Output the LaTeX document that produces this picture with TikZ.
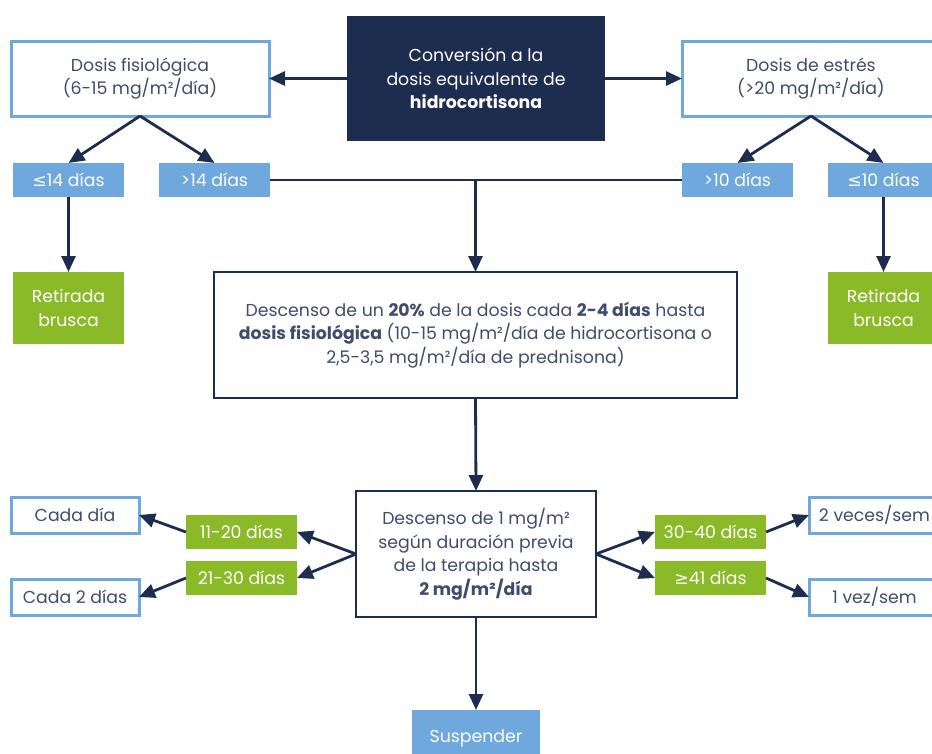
\documentclass[tikz,border=0pt]{standalone}
\usepackage{fontspec}
\setmainfont{Poppins}
\newfontfamily\symf{DejaVu Sans}
\usetikzlibrary{arrows.meta}
\definecolor{navy}{HTML}{1D2D50}
\definecolor{lblue}{HTML}{6FA8DC}
\definecolor{lgreen}{HTML}{8ABA27}
\definecolor{txt}{HTML}{3F4D6B}
\newcommand{\msq}{m²}
\newcommand{\leqs}{{\symf\char"2264}}
\newcommand{\geqs}{{\symf\char"2265}}
\tikzset{
  every node/.style={inner sep=0pt, outer sep=0pt, font=\fontsize{17.3}{23.5}\selectfont},
  outbox/.style={draw=lblue, line width=3pt, fill=white, text=txt},
  bluebox/.style={fill=lblue, text=white},
  greenbox/.style={fill=lgreen, text=white},
  navybox/.style={draw=navy, line width=2.8pt, fill=white, text=txt},
  darkbox/.style={fill=navy, text=white},
  arr/.style={draw=navy, line width=2.8pt, -{Triangle[length=16pt,width=14pt]}},
  ln/.style={draw=navy, line width=2.8pt},
}
\begin{document}
\begin{tikzpicture}[x=1pt,y=-1pt]
\useasboundingbox (0,0) rectangle (932,753);
\clip (0,0) rectangle (932,753);
% top row
\node[darkbox, minimum width=258pt, minimum height=125pt, align=center] (conv) at (476,78.5)
  {Conversión a la\\dosis equivalente de\\\textbf{hidrocortisona}};
\node[outbox, minimum width=258pt, minimum height=75pt, align=center] (fis) at (140,78.5)
  {Dosis fisiológica\\(6-15 mg/\msq/día)};
\node[outbox, minimum width=258pt, minimum height=75pt, align=center] (est) at (811,78.5)
  {Dosis de estrés\\(>20 mg/\msq/día)};
% small boxes
\node[bluebox, minimum width=111pt, minimum height=34pt] (le14) at (68.5,180) {\leqs14 días};
\node[bluebox, minimum width=111pt, minimum height=34pt] (gt14) at (214.5,180) {>14 días};
\node[bluebox, minimum width=111pt, minimum height=34pt] (gt10) at (737.5,180) {>10 días};
\node[bluebox, minimum width=111pt, minimum height=34pt] (le10) at (883.5,180) {\leqs10 días};
% retirada
\node[greenbox, minimum width=111pt, minimum height=72pt, align=center] (ret1) at (68.5,308) {Retirada\\brusca};
\node[greenbox, minimum width=111pt, minimum height=72pt, align=center] (ret2) at (883.5,308) {Retirada\\brusca};
% big box
\node[navybox, minimum width=523pt, minimum height=126pt, align=center] (big) at (475.5,335)
  {Descenso de un \textbf{20\%} de la dosis cada \textbf{2-4 días} hasta\\
   \textbf{dosis fisiológica} (10-15 mg/\msq/día de hidrocortisona o\\
   2,5-3,5 mg/\msq/día de prednisona)};
% second center box
\node[navybox, minimum width=240pt, minimum height=126pt, align=center] (c2) at (476,554)
  {Descenso de 1 mg/\msq\\según duración previa\\de la terapia hasta\\\textbf{2 mg/\msq/día}};
% green duration boxes
\node[greenbox, minimum width=111pt, minimum height=34pt] (g1) at (241.5,532) {11-20 días};
\node[greenbox, minimum width=111pt, minimum height=34pt] (g2) at (241.5,578) {21-30 días};
\node[greenbox, minimum width=111pt, minimum height=34pt] (g3) at (710.5,532) {30-40 días};
\node[greenbox, minimum width=111pt, minimum height=34pt] (g4) at (710.5,578) {\geqs41 días};
% outcome boxes
\node[outbox, minimum width=128pt, minimum height=36pt] (cd) at (75,515) {Cada día};
\node[outbox, minimum width=128pt, minimum height=36pt] (c2d) at (75,597) {Cada 2 días};
\node[outbox, minimum width=131pt, minimum height=36pt] (v2) at (874.5,515) {2 veces/sem};
\node[outbox, minimum width=131pt, minimum height=36pt] (v1) at (874.5,597) {1 vez/sem};
% suspender
\node[bluebox, minimum width=128pt, minimum height=50pt] (sus) at (476,735) {};
\node[text=white] at (476,738) {Suspender};
% connectors
\draw[arr] (conv.west) -- (fis.east);
\draw[arr] (conv.east) -- (est.west);
\draw[arr] (fis.south) -- (le14.north);
\draw[arr] (fis.south) -- (gt14.north);
\draw[arr] (est.south) -- (gt10.north);
\draw[arr] (est.south) -- (le10.north);
\draw[arr] (le14.south) -- (ret1.north);
\draw[arr] (le10.south) -- (ret2.north);
\draw[ln] (gt14.east) -- (gt10.west);
\coordinate (mid) at (big.north |- gt14.east);
\draw[arr] (mid) -- (big.north);
\draw[arr] (big.south) -- (c2.north);
\draw[arr] (c2.west) -- (g1.east);
\draw[arr] (c2.west) -- (g2.east);
\draw[arr] (c2.east) -- (g3.west);
\draw[arr] (c2.east) -- (g4.west);
\draw[arr] (g1.west) -- (cd.east);
\draw[arr] (g2.west) -- (c2d.east);
\draw[arr] (g3.east) -- (v2.west);
\draw[arr] (g4.east) -- (v1.west);
\draw[arr] (c2.south) -- (sus.north);
\end{tikzpicture}
\end{document}
